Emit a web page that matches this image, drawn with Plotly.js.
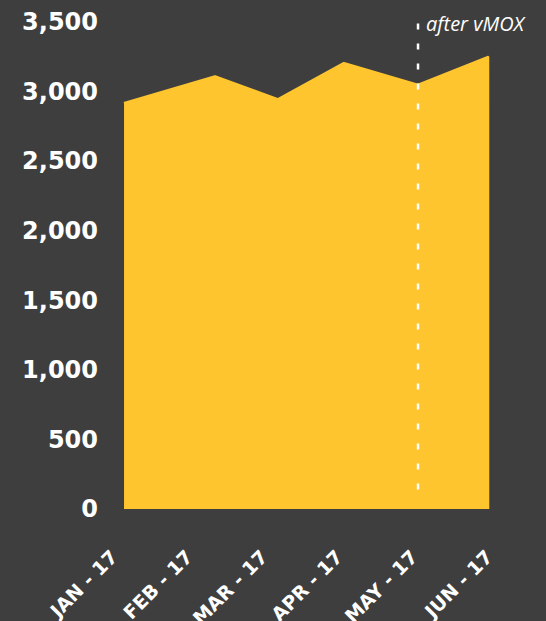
<!DOCTYPE html>
<html>
<head>
<meta charset="utf-8">
<script src="https://cdn.plot.ly/plotly-3.0.1.min.js"></script>
<style>
html,body{margin:0;padding:0;background:#3e3e3e;}
#chart{width:546px;height:621px;}
#chart path.js-line{stroke-linejoin:round;}
</style>
</head>
<body>
<div id="chart"></div>
<script>
// Month tick labels
const monthLabels = ['JAN - 17', 'FEB - 17', 'MAR - 17', 'APR - 17', 'MAY - 17', 'JUN - 17'];
const monthIndex = [0, 1, 2, 3, 4, 5];
// Data points (x in month-index units)
const pointX = [0.16, 1.373, 2.213, 3.093, 4.08, 5.01];
const pointY = [2915, 3106, 2942, 3202, 3046, 3245];
// Event marker
const eventX = 4.08;
const eventLabel = 'after vMOX';
const yTicks = [0, 500, 1000, 1500, 2000, 2500, 3000, 3500];

const yellow = '#FFC52E';
const bg = '#3e3e3e';

// closed area: data line, then down to zero and back
const areaX = pointX.concat([pointX[pointX.length - 1], pointX[0]]);
const areaY = pointY.concat([0, 0]);

const trace = {
  x: areaX,
  y: areaY,
  type: 'scatter',
  mode: 'lines',
  fill: 'toself',
  fillcolor: yellow,
  line: {color: yellow, width: 3},
  hoverinfo: 'skip'
};

const font = '"DejaVu Sans", sans-serif';

const layout = {
  width: 546,
  height: 621,
  paper_bgcolor: bg,
  plot_bgcolor: bg,
  margin: {l: 101, r: 55, t: 8, b: 112},
  showlegend: false,
  xaxis: {
    range: [-0.147, 5.053],
    tickvals: monthIndex,
    ticktext: monthLabels,
    tickangle: -45,
    showgrid: false,
    zeroline: false,
    showline: false,
    ticks: '',
    ticklabelstandoff: 32,
    tickfont: {family: font, size: 19, color: '#ffffff', weight: 700}
  },
  yaxis: {
    range: [0, 3600],
    tickvals: yTicks,
    tickformat: ',d',
    showgrid: false,
    zeroline: false,
    showline: false,
    ticks: '',
    ticklabelstandoff: 2,
    tickfont: {family: font, size: 24, color: '#ffffff', weight: 700}
  },
  shapes: [{
    type: 'line',
    xref: 'x', yref: 'y',
    x0: eventX, x1: eventX,
    y0: 140, y1: 3520,
    line: {color: '#ffffff', width: 2.5, dash: '6px,14px'}
  }],
  annotations: [{
    xref: 'x', yref: 'y',
    x: eventX, y: 3490,
    xanchor: 'left', yanchor: 'middle',
    xshift: 6,
    text: eventLabel,
    showarrow: false,
    font: {family: '"Open Sans", sans-serif', size: 20, color: '#ffffff', style: 'italic'}
  }]
};

Plotly.newPlot('chart', [trace], layout, {displayModeBar: false, staticPlot: true});
</script>
</body>
</html>
